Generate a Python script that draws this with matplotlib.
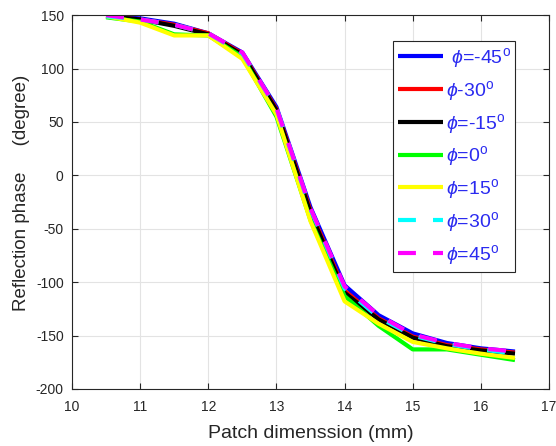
import matplotlib
matplotlib.use("Agg")
import matplotlib.pyplot as plt
from matplotlib.lines import Line2D

plt.rcParams['font.family'] = ['Liberation Sans', 'DejaVu Sans']
plt.rcParams['mathtext.fontset'] = 'custom'
plt.rcParams['mathtext.rm'] = 'Liberation Sans'
plt.rcParams['mathtext.it'] = 'Liberation Sans:italic'
plt.rcParams['axes.unicode_minus'] = False

# Patch dimension (mm)
patch_mm = [10.5, 11, 11.5, 12, 12.5, 13, 13.5, 14, 14.5, 15, 15.5, 16, 16.5]

# Reflection phase (degree) for each incidence angle
phase_m45 = [149, 147, 142, 133, 115, 64, -30, -103, -131, -148, -157, -162, -165]
phase_m30 = [149, 146, 141, 133, 114, 62, -33, -108, -134, -151, -159, -163, -166]
phase_m15 = [149, 146, 140, 132, 113, 61, -35, -110, -135, -152, -160, -164, -167]
phase_0 = [148, 144, 132, 131, 111, 55, -42, -113, -141, -163, -163, -168, -173]
phase_15 = [149, 143, 131, 131, 109, 57, -43, -118, -139, -156, -162, -167, -171]
phase_30 = [149, 146, 141, 133, 114, 63, -32, -106, -133, -150, -158, -163, -167]
phase_45 = [150, 146, 141, 133, 115, 63, -31, -104, -131, -149, -157, -162, -165]

labels = [r' $\phi$=-45$^{\rm o}$', r'$\phi$-30$^{\rm o}$', r'$\phi$=-15$^{\rm o}$',
          r'$\phi$=0$^{\rm o}$', r'$\phi$=15$^{\rm o}$', r'$\phi$=30$^{\rm o}$',
          r'$\phi$=45$^{\rm o}$']
colors = ['#0000ff', '#ff0000', '#000000', '#00ff00', '#ffff00', '#00ffff', '#ff00ff']
series = [phase_m45, phase_m30, phase_m15, phase_0, phase_15, phase_30, phase_45]
dashed = [False, False, False, False, False, True, True]

fig = plt.figure(figsize=(5.56, 4.46), dpi=100)
ax = fig.add_axes([0.1295, 0.128, 0.858, 0.838])

lw = 3.0
dash = (0, (4.3, 4.1))
handles = []
for y, c, d, lab in zip(series, colors, dashed, labels):
    ls = dash if d else '-'
    ax.plot(patch_mm, y, color=c, lw=lw, linestyle=ls, solid_capstyle='butt',
            dash_capstyle='butt')
    handles.append(Line2D([], [], color=c, lw=lw, linestyle=ls,
                          dash_capstyle='butt', solid_capstyle='butt', label=lab))

ax.set_xlim(10, 17)
ax.set_ylim(-200, 150)
ax.set_xticks(range(10, 18))
ax.set_yticks(range(-200, 151, 50))
ax.grid(True, color='#e3e3e3', lw=0.8)
ax.set_axisbelow(True)

axc = '#262626'
for s in ax.spines.values():
    s.set_color(axc)
    s.set_linewidth(0.8)
ax.tick_params(direction='in', length=4, width=0.8, colors=axc, labelsize=10,
               top=True, right=True)
ax.tick_params(axis='x', pad=8)
ax.tick_params(axis='y', pad=6)

ax.set_xlabel('Patch dimenssion (mm)', fontsize=14, color=axc, labelpad=8)
ax.set_ylabel('Reflection phase     (degree)', fontsize=13.5, color=axc)
ax.yaxis.set_label_coords(-0.088, 0.524)

leg = ax.legend(handles=handles, loc='upper left', bbox_to_anchor=(0.673, 0.93),
                fontsize=14, frameon=True, fancybox=False, framealpha=1,
                edgecolor=axc, handlelength=2.3, handletextpad=0.15,
                labelspacing=0.45, borderpad=0.25, borderaxespad=0)
leg.get_frame().set_linewidth(0.8)
for t in leg.get_texts():
    t.set_color('#2b2bf0')

fig.savefig('out.png', dpi=100)
